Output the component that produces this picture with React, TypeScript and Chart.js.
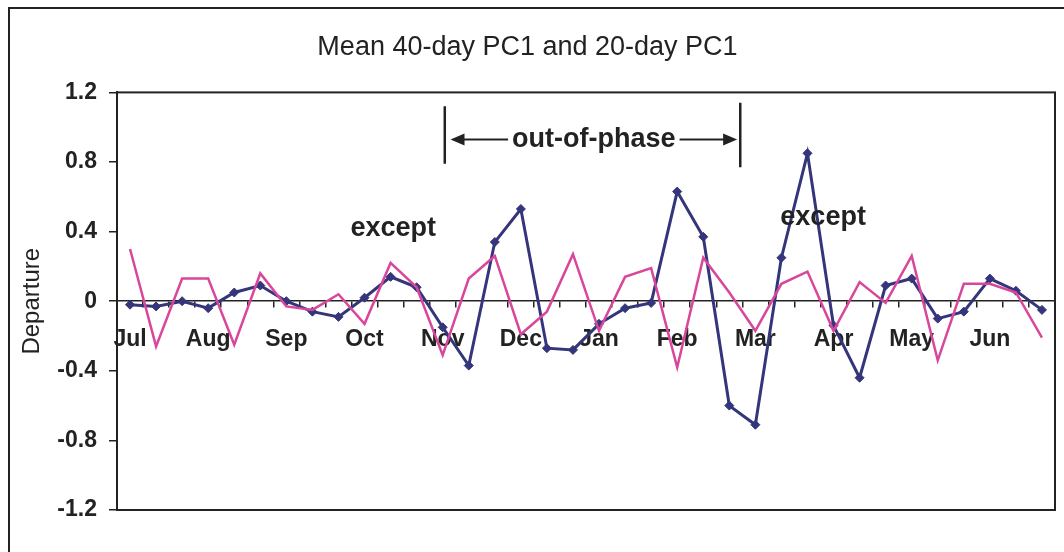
import React, { useEffect, useRef } from 'react';
import { Chart, registerables } from 'chart.js';

Chart.register(...registerables);

// ---- data ----
const months = ['Jul', 'Aug', 'Sep', 'Oct', 'Nov', 'Dec', 'Jan', 'Feb', 'Mar', 'Apr', 'May', 'Jun'];
const periodsPerMonth = 3;
const categories = months.flatMap((m) => [m + '-1', m + '-2', m + '-3']);

const pc1Mean40Day = [
  -0.02, -0.03, 0.0, -0.04, 0.05, 0.09, 0.0, -0.06, -0.09, 0.02, 0.14, 0.08,
  -0.15, -0.37, 0.34, 0.53, -0.27, -0.28, -0.13, -0.04, -0.01, 0.63, 0.37, -0.6,
  -0.71, 0.25, 0.85, -0.14, -0.44, 0.09, 0.13, -0.1, -0.06, 0.13, 0.06, -0.05,
];
const pc1Mean20Day = [
  0.3, -0.26, 0.13, 0.13, -0.25, 0.16, -0.03, -0.05, 0.04, -0.13, 0.22, 0.08,
  -0.31, 0.13, 0.26, -0.19, -0.06, 0.27, -0.17, 0.14, 0.19, -0.38, 0.25, 0.05,
  -0.17, 0.1, 0.17, -0.17, 0.11, -0.01, 0.26, -0.34, 0.1, 0.1, 0.05, -0.21,
];

const yMin = -1.2;
const yMax = 1.2;
const yStep = 0.4;

const titleText = 'Mean 40-day PC1 and 20-day PC1';
const yTitle = 'Departure';

// annotations in data space (category index, value)
const exceptNotes = [
  { text: 'except', x: 10.1, y: 0.42 },
  { text: 'except', x: 26.6, y: 0.48 },
];
const phaseNote = { text: 'out-of-phase', barLeft: 12.08, barRight: 23.42, tipLeft: 12.3, tipRight: 23.3, y: 0.93, barTop: 1.12, barBottom: 0.79 };

const FONT = '"Liberation Sans", Arial, Helvetica, sans-serif';
const INK = '#222';

const framePlugin = {
  id: 'frame',
  beforeDraw(chart: any) {
    const { ctx, width, height } = chart;
    ctx.save();
    ctx.fillStyle = '#fff';
    ctx.fillRect(0, 0, width, height);
    ctx.strokeStyle = INK;
    ctx.lineWidth = 2;
    ctx.beginPath();
    ctx.moveTo(9, height + 5);
    ctx.lineTo(9, 8);
    ctx.lineTo(width + 5, 8);
    ctx.stroke();
    ctx.restore();
  },
  afterDatasetsDraw(chart: any) {
    const { ctx, chartArea, scales } = chart;
    const xs = scales.x;
    const ys = scales.y;
    ctx.save();
    // plot-area border
    ctx.strokeStyle = INK;
    ctx.lineWidth = 2;
    ctx.strokeRect(chartArea.left, chartArea.top, chartArea.right - chartArea.left, chartArea.bottom - chartArea.top);

    // "except" notes
    ctx.fillStyle = INK;
    ctx.font = `bold 27px ${FONT}`;
    ctx.textAlign = 'center';
    ctx.textBaseline = 'middle';
    for (const n of exceptNotes) {
      ctx.fillText(n.text, xs.getPixelForValue(n.x), ys.getPixelForValue(n.y));
    }

    // out-of-phase bracket
    const yA = ys.getPixelForValue(phaseNote.y);
    const xL = xs.getPixelForValue(phaseNote.tipLeft);
    const xR = xs.getPixelForValue(phaseNote.tipRight);
    const xmid = (xL + xR) / 2;
    ctx.font = `bold 27px ${FONT}`;
    const tw = ctx.measureText(phaseNote.text).width;
    ctx.fillText(phaseNote.text, xmid, yA);
    ctx.lineWidth = 2;
    ctx.beginPath();
    ctx.moveTo(xL + 8, yA);
    ctx.lineTo(xmid - tw / 2 - 4, yA);
    ctx.moveTo(xmid + tw / 2 + 4, yA);
    ctx.lineTo(xR - 8, yA);
    ctx.stroke();
    // arrow heads
    ctx.beginPath();
    ctx.moveTo(xL, yA);
    ctx.lineTo(xL + 14, yA - 6);
    ctx.lineTo(xL + 14, yA + 6);
    ctx.closePath();
    ctx.moveTo(xR, yA);
    ctx.lineTo(xR - 14, yA - 6);
    ctx.lineTo(xR - 14, yA + 6);
    ctx.closePath();
    ctx.fill();
    // vertical bars
    ctx.lineWidth = 2.5;
    ctx.beginPath();
    ctx.moveTo(xs.getPixelForValue(phaseNote.barLeft), ys.getPixelForValue(phaseNote.barTop));
    ctx.lineTo(xs.getPixelForValue(phaseNote.barLeft), ys.getPixelForValue(phaseNote.barBottom));
    ctx.moveTo(xs.getPixelForValue(phaseNote.barRight), ys.getPixelForValue(phaseNote.barTop + 0.02));
    ctx.lineTo(xs.getPixelForValue(phaseNote.barRight), ys.getPixelForValue(phaseNote.barBottom - 0.02));
    ctx.stroke();
    ctx.restore();
  },
};

export default function App() {
  const canvasRef = useRef<HTMLCanvasElement | null>(null);

  useEffect(() => {
    if (!canvasRef.current) return;
    const chart = new Chart(canvasRef.current, {
      type: 'line',
      data: {
        labels: categories,
        datasets: [
          {
            label: '20-day PC1',
            data: pc1Mean20Day,
            borderColor: '#d8479c',
            borderWidth: 2.5,
            pointRadius: 0,
            tension: 0,
          },
          {
            label: 'Mean 40-day PC1',
            data: pc1Mean40Day,
            borderColor: '#34357a',
            backgroundColor: '#34357a',
            borderWidth: 3,
            pointStyle: 'rectRot',
            pointRadius: 4.5,
            pointBorderWidth: 1,
            tension: 0,
          },
        ],
      },
      options: {
        responsive: false,
        animation: false,
        devicePixelRatio: 1,
        layout: { padding: { left: 0, right: 9, top: 0, bottom: 42 } },
        plugins: {
          legend: { display: false },
          tooltip: { enabled: false },
          title: {
            display: true,
            text: titleText,
            color: INK,
            font: { family: FONT, size: 27, weight: 'normal' },
            padding: { top: 31, bottom: 29 },
          },
        },
        scales: {
          x: {
            type: 'category',
            position: { y: 0 },
            offset: true,
            grid: {
              offset: true,
              drawOnChartArea: false,
              drawTicks: true,
              tickLength: 6,
              color: INK,
              lineWidth: 1.5,
            },
            border: { display: true, color: INK, width: 1.5 },
            ticks: {
              autoSkip: false,
              maxRotation: 0,
              padding: 19,
              color: INK,
              font: { family: FONT, size: 23, weight: 'bold' },
              callback: (_v: any, i: number) => (i % periodsPerMonth === 0 ? months[i / periodsPerMonth] : ''),
            },
          },
          y: {
            min: yMin,
            max: yMax,
            afterFit: (scale: any) => {
              scale.width = 117;
            },
            grid: {
              drawOnChartArea: false,
              drawTicks: true,
              tickLength: 8,
              color: INK,
              lineWidth: 1.5,
            },
            border: { display: true, color: INK, width: 2 },
            ticks: {
              stepSize: yStep,
              padding: 12,
              color: INK,
              font: { family: FONT, size: 23, weight: 'bold' },
              callback: (v: any) => String(Number(Number(v).toFixed(1))),
            },
            title: {
              display: true,
              text: yTitle,
              color: INK,
              font: { family: FONT, size: 24, weight: 'normal' },
              padding: { top: 18, bottom: 0 },
            },
          },
        },
      },
      plugins: [framePlugin],
    });
    return () => chart.destroy();
  }, []);

  return (
    <div style={{ position: 'fixed', left: 0, top: 0, width: 1064, height: 552, background: '#fff' }}>
      <canvas ref={canvasRef} width={1064} height={552} style={{ display: 'block' }} />
    </div>
  );
}
